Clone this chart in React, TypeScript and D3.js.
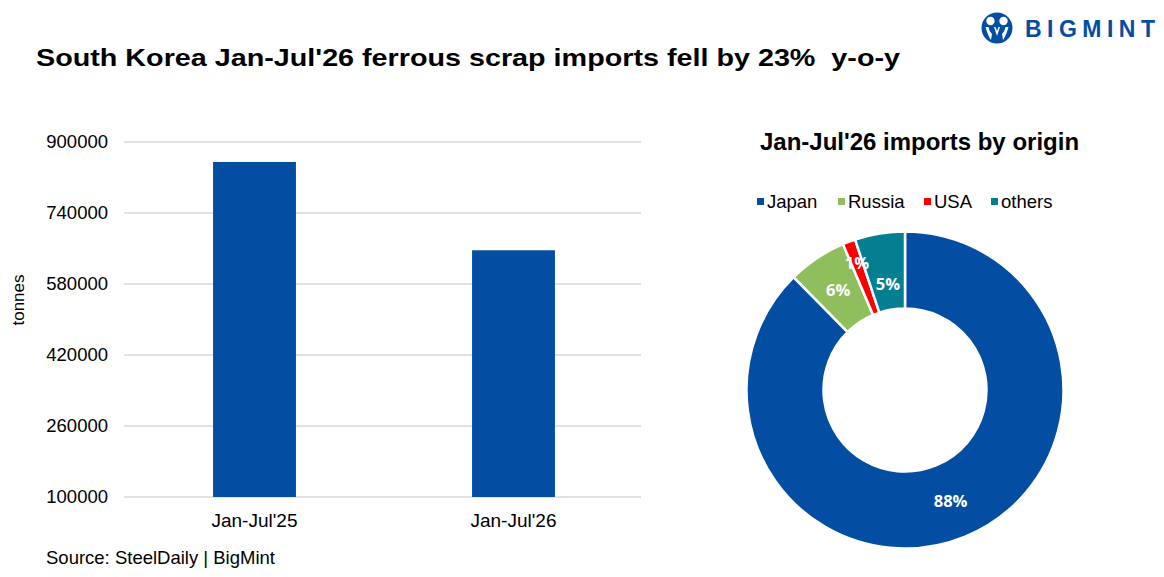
import React from "react";
import * as d3 from "d3";

const W = 1164;
const H = 577;

const TITLE = "South Korea Jan-Jul'26 ferrous scrap imports fell by 23%  y-o-y";
const BAR_CATEGORIES = ["Jan-Jul'25", "Jan-Jul'26"];
const BAR_VALUES = [855000, 656000];
const Y_TICKS = [100000, 260000, 420000, 580000, 740000, 900000];
const Y_LABEL = "tonnes";
const SOURCE = "Source: SteelDaily | BigMint";

const PIE_TITLE = "Jan-Jul'26 imports by origin";
const ORIGINS = ["Japan", "Russia", "USA", "others"];
const ORIGIN_SHARES = [87.6, 6.0, 1.3, 5.1];
const ORIGIN_LABELS = ["88%", "6%", "1%", "5%"];
const ORIGIN_COLORS = ["#034EA2", "#8FBE5D", "#FF0000", "#047E91"];

const BAR_COLOR = "#034EA2";
const GRID = "#D9D9D9";
const FONT = "'Liberation Sans', Arial, sans-serif";
const LABEL_FONT = "'Open Sans', 'DejaVu Sans', sans-serif";

// label radius per slice (Excel nudges the small ones)
const LABEL_R = [120, 120, 136, 107];

export default function App() {
  const x = d3
    .scaleBand<string>()
    .domain(BAR_CATEGORIES)
    .range([125, 643])
    .paddingInner(0.68)
    .paddingOuter(0.34);
  const y = d3.scaleLinear().domain([100000, 900000]).range([497, 142]);

  const cx = 905;
  const cy = 390;
  const rOuter = 158.5;
  const rInner = 81.5;
  const pie = d3.pie<number>().sort(null).value((d) => d);
  const arcs = pie(ORIGIN_SHARES);
  const arc = d3.arc<d3.PieArcDatum<number>>().innerRadius(rInner).outerRadius(rOuter);

  const legendX = [757, 838, 924, 991];

  return (
    <svg width={W} height={H} style={{ display: "block", position: "absolute", left: 0, top: 0 }}>
      <rect width={W} height={H} fill="#fff" />
      {/* logo */}
      <g>
        <circle cx={997} cy={28} r={15.5} fill="#034EA2" />
        <circle cx={990.5} cy={21} r={4.2} fill="#fff" />
        <circle cx={1003.5} cy={21} r={4.2} fill="#fff" />
        <path d="M985.5 27 Q988 36 991 40 L992 34 Q989 31 988.5 27 Z" fill="#fff" />
        <path d="M1008.5 27 Q1006 36 1003 40 L1002 34 Q1005 31 1005.5 27 Z" fill="#fff" />
        <path d="M994 27 L997 36 L1000 27 L998.5 27 L997 31 L995.5 27 Z" fill="#fff" />
        <text x={1025} y={37} fontFamily={FONT} fontWeight="bold" fontSize={23} fill="#034EA2" textLength={130} lengthAdjust="spacing">
          BIGMINT
        </text>
      </g>

      <text x={36} y={66} fontFamily={FONT} fontWeight="bold" fontSize={24} fill="#000" textLength={864} lengthAdjust="spacingAndGlyphs" style={{ whiteSpace: "pre" }}>
        {TITLE}
      </text>

      {/* bar chart */}
      {Y_TICKS.map((t) => (
        <g key={t}>
          <line x1={124} x2={641} y1={y(t)} y2={y(t)} stroke={GRID} strokeWidth={1.3} />
          <text x={108} y={y(t)} dy="0.35em" textAnchor="end" fontFamily={FONT} fontSize={18.5} fill="#000">
            {t}
          </text>
        </g>
      ))}
      {BAR_CATEGORIES.map((c, i) => (
        <g key={c}>
          <rect x={x(c)} y={y(BAR_VALUES[i])} width={x.bandwidth()} height={y(100000) - y(BAR_VALUES[i])} fill={BAR_COLOR} />
          <text x={(x(c) as number) + x.bandwidth() / 2} y={527} textAnchor="middle" fontFamily={FONT} fontSize={19} fill="#000">
            {c}
          </text>
        </g>
      ))}
      <text transform="translate(24,300) rotate(-90)" textAnchor="middle" fontFamily={FONT} fontSize={17} fill="#000">
        {Y_LABEL}
      </text>
      <text x={46} y={564} fontFamily={FONT} fontSize={18.5} fill="#000">
        {SOURCE}
      </text>

      {/* donut */}
      <text x={919.5} y={150} textAnchor="middle" fontFamily={FONT} fontWeight="bold" fontSize={24} fill="#000">
        {PIE_TITLE}
      </text>
      {ORIGINS.map((o, i) => (
        <g key={o}>
          <rect x={legendX[i]} y={198} width={7} height={7} fill={ORIGIN_COLORS[i]} />
          <text x={legendX[i] + 10} y={208} fontFamily={FONT} fontSize={18.5} fill="#000">
            {o}
          </text>
        </g>
      ))}
      <g transform={`translate(${cx},${cy})`}>
        {arcs.map((a, i) => (
          <path key={i} d={arc(a) as string} fill={ORIGIN_COLORS[i]} stroke="#fff" strokeWidth={2.5} />
        ))}
        {arcs.map((a, i) => {
          const m = (a.startAngle + a.endAngle) / 2;
          const r = LABEL_R[i];
          return (
            <text
              key={"l" + i}
              x={Math.sin(m) * r}
              y={-Math.cos(m) * r}
              dy="0.35em"
              textAnchor="middle"
              fontFamily={LABEL_FONT}
              fontWeight="bold"
              fontSize={16.5}
              fill="#fff"
            >
              {ORIGIN_LABELS[i]}
            </text>
          );
        })}
      </g>
    </svg>
  );
}
